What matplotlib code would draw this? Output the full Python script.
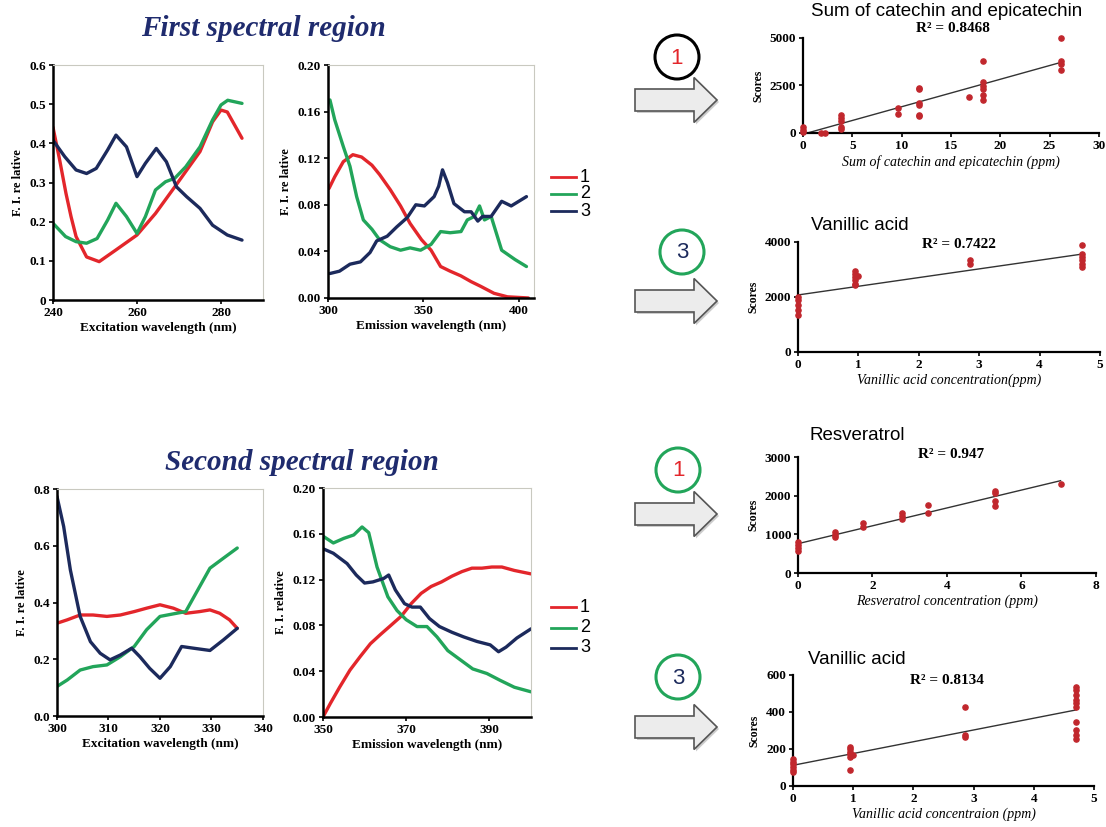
import numpy as np
import matplotlib
matplotlib.use("Agg")
import matplotlib.pyplot as plt
from matplotlib.patches import Circle, FancyArrow
from matplotlib.lines import Line2D

# colours
RED = '#e3262b'
GREEN = '#22a55a'
NAVY = '#1c2a5c'
DOT = '#c1272d'

# --- first spectral region, excitation ---
ex1_red_x = [240, 241.6, 243.1, 244.3, 245.5, 248, 251, 255, 260, 264.4, 269, 275, 278, 280, 281.5, 285]
ex1_red_y = [0.441, 0.357, 0.272, 0.213, 0.162, 0.11, 0.098, 0.128, 0.166, 0.221, 0.289, 0.379, 0.455, 0.485, 0.48, 0.413]
ex1_green_x = [240, 243, 245.5, 248, 250.5, 253, 255, 257.5, 260, 262, 264.4, 266.8, 269, 271.6, 275, 278, 280, 281.6, 285]
ex1_green_y = [0.196, 0.162, 0.149, 0.145, 0.157, 0.204, 0.247, 0.213, 0.17, 0.213, 0.281, 0.302, 0.311, 0.34, 0.391, 0.46, 0.498, 0.51, 0.502]
ex1_navy_x = [240, 242.8, 245.5, 248, 250.3, 253, 255, 257.5, 260, 262, 264.6, 267, 269.4, 271.8, 275, 278, 281.5, 285]
ex1_navy_y = [0.408, 0.366, 0.332, 0.323, 0.336, 0.383, 0.421, 0.391, 0.315, 0.349, 0.387, 0.353, 0.289, 0.264, 0.234, 0.191, 0.166, 0.153]

# --- first spectral region, emission ---
em1_red_x = [300.5, 303.5, 308, 313, 317.6, 323, 327, 332.6, 338, 343, 349, 354, 359, 364, 369.6, 375, 380, 387, 394, 405]
em1_red_y = [0.094, 0.104, 0.117, 0.123, 0.121, 0.114, 0.106, 0.093, 0.079, 0.064, 0.05, 0.041, 0.027, 0.023, 0.019, 0.014, 0.01, 0.004, 0.001, 0.0]
em1_green_x = [301, 303.5, 308, 311.5, 315, 318.5, 323, 327, 332.6, 338, 343, 348.5, 354, 359, 364, 369.7, 373, 376.7, 379.4, 382, 385.5, 391, 398, 404]
em1_green_y = [0.17, 0.153, 0.13, 0.113, 0.087, 0.067, 0.059, 0.05, 0.044, 0.041, 0.043, 0.041, 0.046, 0.057, 0.056, 0.057, 0.067, 0.07, 0.079, 0.067, 0.07, 0.041, 0.033, 0.027]
em1_navy_x = [301, 306, 311.5, 317, 322, 325.5, 331, 336, 341.5, 346, 350.5, 355.6, 358, 360, 362.6, 366, 371.5, 375, 378.5, 381, 385.5, 391, 396, 404]
em1_navy_y = [0.021, 0.023, 0.029, 0.031, 0.039, 0.049, 0.053, 0.061, 0.069, 0.08, 0.079, 0.087, 0.096, 0.11, 0.099, 0.081, 0.074, 0.074, 0.066, 0.07, 0.07, 0.083, 0.079, 0.087]

# --- second spectral region, excitation ---
ex2_red_x = [300, 302, 304.5, 307, 309.7, 312.3, 315, 317.4, 320, 322.6, 325, 327.7, 329.7, 331.6, 333.5, 335]
ex2_red_y = [0.327, 0.339, 0.356, 0.356, 0.351, 0.356, 0.368, 0.38, 0.392, 0.38, 0.362, 0.368, 0.374, 0.362, 0.339, 0.309]
ex2_green_x = [300, 302, 304.5, 307, 309.7, 312.3, 315, 317.4, 320, 322.6, 325, 327.7, 329.7, 332.3, 335]
ex2_green_y = [0.104, 0.127, 0.162, 0.174, 0.18, 0.209, 0.245, 0.304, 0.351, 0.36, 0.368, 0.456, 0.521, 0.556, 0.592]
ex2_navy_x = [300, 301.3, 302.6, 304.5, 306.5, 308.4, 310.3, 312.3, 314.5, 316.1, 318, 320, 322, 324.2, 326.5, 329.7, 332.3, 335]
ex2_navy_y = [0.774, 0.668, 0.515, 0.351, 0.262, 0.221, 0.198, 0.215, 0.239, 0.209, 0.168, 0.133, 0.174, 0.245, 0.239, 0.231, 0.268, 0.309]

# --- second spectral region, emission ---
em2_red_x = [350, 351.8, 354, 356.5, 359, 361.4, 363.8, 366, 368.8, 371.2, 373.6, 376, 378.5, 381, 383.4, 385.8, 388.2, 390.6, 393, 396, 400]
em2_red_y = [0.0, 0.012, 0.026, 0.041, 0.053, 0.064, 0.072, 0.079, 0.088, 0.099, 0.108, 0.114, 0.118, 0.123, 0.127, 0.13, 0.13, 0.131, 0.131, 0.128, 0.125]
em2_green_x = [350, 352.5, 355, 357.4, 359.4, 361, 363, 365.6, 367.8, 370, 372.6, 375, 377.4, 380, 383, 386, 389.4, 392.6, 396, 400]
em2_green_y = [0.158, 0.152, 0.156, 0.159, 0.166, 0.161, 0.131, 0.105, 0.093, 0.085, 0.079, 0.079, 0.07, 0.058, 0.05, 0.042, 0.038, 0.032, 0.026, 0.022]
em2_navy_x = [350, 352.5, 355.8, 358, 360, 362, 364.6, 365.8, 367.4, 369.6, 371.4, 373.4, 375.6, 378, 381, 383.8, 387, 390.2, 392.2, 394, 396.6, 400]
em2_navy_y = [0.147, 0.143, 0.134, 0.124, 0.117, 0.118, 0.121, 0.124, 0.111, 0.099, 0.096, 0.096, 0.086, 0.079, 0.074, 0.07, 0.066, 0.063, 0.057, 0.061, 0.069, 0.077]

# --- calibration scatter data ---
cat_x = [0, 0, 0, 1.8, 2.2, 3.9, 3.9, 3.9, 3.9, 3.9, 9.6, 9.6, 11.8, 11.8, 11.8, 11.8, 11.8, 11.8,
         16.8, 18.3, 18.3, 18.3, 18.3, 18.3, 18.3, 26.2, 26.2, 26.2, 26.2]
cat_y = [300, 170, 50, 0, 0, 930, 810, 630, 320, 230, 1320, 980, 2370, 2300, 1600, 1490, 960, 900,
         1890, 3770, 2680, 2460, 2330, 1980, 1750, 5000, 3770, 3650, 3330]

van1_x = [0, 0, 0, 0, 0, 0.95, 0.95, 0.95, 0.95, 0.95, 0.95, 1.0, 2.85, 2.85, 4.7, 4.7, 4.7, 4.7, 4.7, 4.7]
van1_y = [2000, 1880, 1700, 1510, 1330, 2940, 2850, 2730, 2600, 2480, 2420, 2750, 3360, 3210, 3880, 3580, 3450, 3330, 3210, 3090]

res_x = [0, 0, 0, 0, 1.0, 1.0, 1.0, 1.75, 1.75, 2.8, 2.8, 2.8, 3.5, 3.5, 5.3, 5.3, 5.3, 5.3, 7.05]
res_y = [810, 730, 640, 560, 1050, 990, 930, 1290, 1180, 1560, 1480, 1400, 1760, 1550, 2110, 2060, 1870, 1740, 2290]

van2_x = [0, 0, 0, 0, 0, 0, 0.95, 0.95, 0.95, 0.95, 0.95, 0.95, 1.0, 2.85, 2.85, 2.85,
          4.7, 4.7, 4.7, 4.7, 4.7, 4.7, 4.7, 4.7, 4.7, 4.7]
van2_y = [148, 130, 117, 103, 89, 76, 211, 199, 184, 172, 154, 89, 166, 428, 275, 266,
          537, 519, 492, 464, 446, 428, 347, 302, 275, 253]

SERIF = 'Liberation Serif'
SANS = 'Liberation Sans'

fig = plt.figure(figsize=(11.06, 8.27), dpi=100)


def spectral(rect, xlim, ylim, xticks, yticks, yfmt, ylabel, xlabel, curves):
    ax = fig.add_axes(rect)
    for x, y, c in curves:
        ax.plot(x, y, color=c, lw=2.4, solid_joinstyle='round', solid_capstyle='round')
    ax.set_xlim(*xlim)
    ax.set_ylim(*ylim)
    ax.set_xticks(xticks)
    ax.set_yticks(yticks)
    ax.set_yticklabels([yfmt.format(v) for v in yticks])
    for s in ['top', 'right']:
        ax.spines[s].set_color('#c9c9c0')
        ax.spines[s].set_linewidth(0.8)
    for s in ['left', 'bottom']:
        ax.spines[s].set_linewidth(1.8)
    ax.tick_params(length=3, width=1.2, direction='out', pad=2)
    for t in ax.get_xticklabels() + ax.get_yticklabels():
        t.set_fontfamily(SERIF)
        t.set_fontweight('bold')
        t.set_fontsize(9.5)
    ax.set_ylabel(ylabel, fontfamily=SERIF, fontweight='bold', fontsize=9, labelpad=4)
    ax.set_xlabel(xlabel, fontfamily=SERIF, fontweight='bold', fontsize=9.5, labelpad=2)
    return ax


def scatter(rect, x, y, xlim, ylim, xticks, yticks, xlabel):
    ax = fig.add_axes(rect)
    ax.scatter(x, y, s=14, color=DOT, zorder=3, clip_on=False)
    k, b = np.polyfit(x, y, 1)
    xs = np.array([0, max(x)])
    ax.plot(xs, k * xs + b, color='#333333', lw=1.0)
    ax.set_xlim(*xlim)
    ax.set_ylim(*ylim)
    ax.set_xticks(xticks)
    ax.set_yticks(yticks)
    for s in ['top', 'right']:
        ax.spines[s].set_visible(False)
    for s in ['left', 'bottom']:
        ax.spines[s].set_linewidth(1.6)
    ax.tick_params(length=3, width=1.2, direction='out', pad=2)
    for t in ax.get_xticklabels() + ax.get_yticklabels():
        t.set_fontfamily(SERIF)
        t.set_fontweight('bold')
        t.set_fontsize(9.5)
    ax.set_ylabel('Scores', fontfamily=SERIF, fontweight='bold', fontsize=8.5, labelpad=4)
    ax.set_xlabel(xlabel, fontfamily=SERIF, fontstyle='italic', fontsize=10, labelpad=2)
    return ax


a1 = spectral([0.0479, 0.6372, 0.1899, 0.2842], (240, 290), (0, 0.6), [240, 260, 280],
              [0, 0.1, 0.2, 0.3, 0.4, 0.5, 0.6], '{:g}', 'F. I. re lative', 'Excitation wavelength (nm)',
              [(ex1_red_x, ex1_red_y, RED), (ex1_green_x, ex1_green_y, GREEN), (ex1_navy_x, ex1_navy_y, NAVY)])

a2 = spectral([0.2966, 0.6397, 0.1863, 0.2817], (300, 408), (0, 0.2), [300, 350, 400],
              [0, 0.04, 0.08, 0.12, 0.16, 0.20], '{:.2f}', 'F. I. re lative', 'Emission wavelength (nm)',
              [(em1_red_x, em1_red_y, RED), (em1_green_x, em1_green_y, GREEN), (em1_navy_x, em1_navy_y, NAVY)])

a3 = spectral([0.0515, 0.1342, 0.1863, 0.2745], (300, 340), (0, 0.8), [300, 310, 320, 330, 340],
              [0, 0.2, 0.4, 0.6, 0.8], '{:.1f}', 'F. I. re lative', 'Excitation wavelength (nm)',
              [(ex2_red_x, ex2_red_y, RED), (ex2_green_x, ex2_green_y, GREEN), (ex2_navy_x, ex2_navy_y, NAVY)])

a4 = spectral([0.2920, 0.1330, 0.1881, 0.2769], (350, 400), (0, 0.2), [350, 370, 390],
              [0, 0.04, 0.08, 0.12, 0.16, 0.20], '{:.2f}', 'F. I. relative', 'Emission wavelength (nm)',
              [(em2_red_x, em2_red_y, RED), (em2_green_x, em2_green_y, GREEN), (em2_navy_x, em2_navy_y, NAVY)])

s1 = scatter([0.7260, 0.8392, 0.2676, 0.1149], cat_x, cat_y, (0, 30), (0, 5000),
             [0, 5, 10, 15, 20, 25, 30], [0, 2500, 5000], 'Sum of catechin and epicatechin (ppm)')
s2 = scatter([0.7215, 0.5744, 0.2731, 0.1330], van1_x, van1_y, (0, 5), (0, 4000),
             [0, 1, 2, 3, 4, 5], [0, 2000, 4000], 'Vanillic acid concentration(ppm)')
s3 = scatter([0.7215, 0.3071, 0.2694, 0.1403], res_x, res_y, (0, 8), (0, 3000),
             [0, 2, 4, 6, 8], [0, 1000, 2000, 3000], 'Resveratrol concentration (ppm)')
s4 = scatter([0.7170, 0.0496, 0.2722, 0.1342], van2_x, van2_y, (0, 5), (0, 600),
             [0, 1, 2, 3, 4, 5], [0, 200, 400, 600], 'Vanillic acid concentraion (ppm)')

# overlay in pixel coordinates for titles, legends, circles and arrows
ov = fig.add_axes([0, 0, 1, 1], facecolor='none')
ov.set_xlim(0, 1106)
ov.set_ylim(827, 0)
ov.axis('off')

ov.text(263, 28, 'First spectral region', ha='center', va='center', color='#1f2b6e',
        fontfamily=SERIF, fontweight='bold', fontstyle='italic', fontsize=21)
ov.text(302, 463, 'Second spectral region', ha='center', va='center', color='#1f2b6e',
        fontfamily=SERIF, fontweight='bold', fontstyle='italic', fontsize=21)

# legends
for ys in ([177, 194, 211], [607, 628, 648]):
    for yy, c, lab in zip(ys, [RED, GREEN, NAVY], ['1', '2', '3']):
        ov.add_line(Line2D([551, 576], [yy, yy], color=c, lw=2))
        ov.text(580, yy, lab, ha='left', va='center', fontfamily=SANS, fontsize=13)

# scatter titles and R2
titles = [('Sum of catechin and epicatechin', 947, 12), ('Vanillic acid', 860, 226),
          ('Resveratrol', 857, 436), ('Vanillic acid', 857, 660)]
for t, x, y in titles:
    ov.text(x, y, t, ha='center', va='center', fontfamily=SANS, fontsize=13.5)
r2 = [('R² = 0.8468', 953, 28), ('R² = 0.7422', 959, 245), ('R² = 0.947', 951, 455), ('R² = 0.8134', 947, 681)]
for t, x, y in r2:
    ov.text(x, y, t, ha='center', va='center', fontfamily=SERIF, fontweight='bold', fontsize=11)

# numbered circles
circles = [(677, 57, 'black', '1', RED), (682, 252, GREEN, '3', NAVY),
           (678, 470, GREEN, '1', RED), (678, 677, GREEN, '3', NAVY)]
for cx, cy, ec, lab, tc in circles:
    ov.add_patch(Circle((cx, cy), 22, facecolor='white', edgecolor=ec, lw=2.2))
    ov.text(cx, cy + 1, lab, ha='center', va='center', color=tc, fontfamily=SANS, fontsize=16)

# block arrows
for ay in [100, 301, 514, 727]:
    ov.add_patch(FancyArrow(637, ay + 2, 82, 0, width=22, head_width=45, head_length=23,
                            length_includes_head=True, facecolor='#9a9a9a', edgecolor='none', alpha=0.5))
    ov.add_patch(FancyArrow(635, ay, 82, 0, width=22, head_width=45, head_length=23,
                            length_includes_head=True, facecolor='#ececec', edgecolor='#555555', lw=1.2))

fig.savefig('out.png', dpi=100)
